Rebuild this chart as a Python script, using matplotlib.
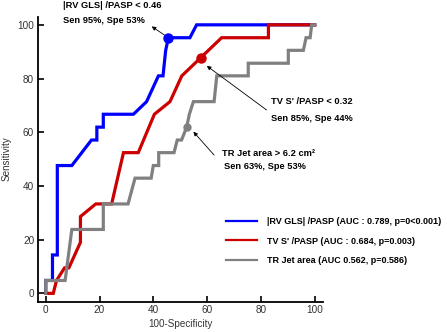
import matplotlib
matplotlib.use("Agg")
import matplotlib.pyplot as plt

plt.rcParams['font.family'] = ['Liberation Sans', 'DejaVu Sans']

# ROC curves (x = 100-Specificity, y = Sensitivity)
rv_x = [0, 0, 2.5, 2.5, 4.3, 4.3, 9.7, 17.0, 19.0, 19.0, 21.4, 21.4, 32.6, 37.5,
        41.9, 43.6, 44.6, 45.6, 53.6, 56.1, 100]
rv_y = [0, 4.8, 4.8, 14.3, 14.3, 47.6, 47.6, 57.1, 57.1, 61.9, 61.9, 66.7, 66.7, 71.4,
        81.0, 81.0, 90.5, 95.2, 95.2, 100, 100]

tv_x = [0, 2.8, 4.0, 7.0, 8.6, 12.9, 12.9, 18.6, 24.5, 28.9, 34.4, 40.4, 46.2,
        50.6, 65.4, 82.8, 82.8, 100]
tv_y = [0, 0, 4.8, 9.5, 9.5, 19.0, 28.6, 33.3, 33.3, 52.4, 52.4, 66.7, 71.4,
        81.0, 95.2, 95.2, 100, 100]

tr_x = [0, 0, 7.2, 9.7, 21.4, 21.4, 30.6, 33.2, 39.2, 40.0, 42.0, 42.0, 47.7,
        48.9, 50.5, 52.4, 53.4, 54.9, 62.6, 63.6, 75.3, 75.3, 90.2, 90.2, 95.8,
        96.8, 98.3, 98.9, 100]
tr_y = [0, 4.8, 4.8, 23.8, 23.8, 33.3, 33.3, 42.9, 42.9, 47.6, 47.6, 52.4, 52.4,
        57.1, 57.1, 61.9, 66.7, 71.4, 71.4, 81.0, 81.0, 85.7, 85.7, 90.5, 90.5,
        95.2, 95.2, 100, 100]

# cut-off points
cut_x = [45.6, 57.7, 52.4]
cut_y = [95.2, 87.6, 61.9]

labels = ["|RV GLS| /PASP (AUC : 0.789, p=0<0.001)",
          "TV S' /PASP (AUC : 0.684, p=0.003)",
          "TR Jet area (AUC 0.562, p=0.586)"]
colors = ["#0000ff", "#cc0000", "#808080"]

fig = plt.figure(figsize=(4.47, 3.32), dpi=100)
ax = fig.add_axes([0.0843, 0.0913, 0.6377, 0.859])

for xs, ys, c in zip([rv_x, tv_x, tr_x], [rv_y, tv_y, tr_y], colors):
    ax.plot(xs, ys, color=c, lw=2.3, solid_joinstyle='miter', zorder=3)

ax.plot(cut_x[0], cut_y[0], 'o', color=colors[0], ms=6.5, zorder=4)
ax.plot(cut_x[1], cut_y[1], 'o', color=colors[1], ms=6.5, zorder=4)
ax.plot(cut_x[2], cut_y[2], 'o', color=colors[2], ms=5, zorder=4)

ax.set_xlim(-3, 103)
ax.set_ylim(-3.1, 103.1)
ax.set_xticks([0, 20, 40, 60, 80, 100])
ax.set_yticks([0, 20, 40, 60, 80, 100])
for s in ['top', 'right']:
    ax.spines[s].set_visible(False)
for s in ['left', 'bottom']:
    ax.spines[s].set_linewidth(1.3)
ax.tick_params(direction='in', length=4, width=1.2, labelsize=7.2,
               labelcolor='#333333', pad=2.5)
ax.set_xlabel("100-Specificity", fontsize=7.1, color='#333333', labelpad=3)
ax.set_ylabel("Sensitivity", fontsize=7.1, color='#333333', labelpad=4)

tfont = dict(fontsize=6.7, fontweight='bold', va='center', ha='left')
ax.text(6.4, 107.1, "|RV GLS| /PASP < 0.46", **tfont)
ax.text(6.4, 101.5, "Sen 95%, Spe 53%", **tfont)
ax.annotate("", xy=(39.4, 99.4), xytext=(cut_x[0], cut_y[0]),
            arrowprops=dict(arrowstyle='-|>', color='black', lw=0.6,
                            mutation_scale=6, shrinkA=0, shrinkB=0))

ax.text(83.8, 71.4, "TV S' /PASP < 0.32", **tfont)
ax.text(83.8, 65.2, "Sen 85%, Spe 44%", **tfont)
ax.annotate("", xy=(59.9, 84.7), xytext=(82.1, 68.3),
            arrowprops=dict(arrowstyle='-|>', color='black', lw=0.6,
                            mutation_scale=6, shrinkA=0, shrinkB=0))

ax.text(65.4, 51.9, "TR Jet area > 6.2 cm\u00b2", **tfont)
ax.text(66.3, 47.4, "Sen 63%, Spe 53%", **tfont)
ax.annotate("", xy=(54.9, 60.2), xytext=(62.6, 51.5),
            arrowprops=dict(arrowstyle='-|>', color='black', lw=0.6,
                            mutation_scale=6, shrinkA=0, shrinkB=0))

handles = [plt.Line2D([], [], color=c, lw=1.6) for c in colors]
leg = fig.legend(handles, labels, loc='upper left',
                 bbox_to_anchor=(0.5056, 0.346), frameon=False,
                 prop=dict(size=6.5, weight='bold'), handlelength=3.4,
                 handletextpad=1.1, labelspacing=1.15, borderpad=0,
                 borderaxespad=0)

fig.savefig("out.png", dpi=100)
